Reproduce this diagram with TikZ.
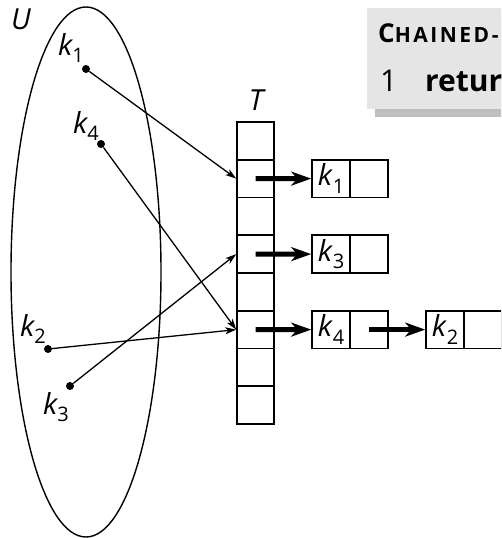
\documentclass[tikz,border=0pt]{standalone}
\usepackage{fontspec}
\setmainfont{Open Sans}
\usetikzlibrary{arrows.meta}
\newcommand\kk[1]{\textit{k}\raisebox{-0.25em}{\fontsize{20}{20}\selectfont\upshape #1}}
\begin{document}
\begin{tikzpicture}[x=1pt,y=-1pt,
  lbl/.style={font=\fontsize{29}{33}\selectfont\itshape, inner sep=0pt},
  dot/.style={circle, fill=black, inner sep=0pt, minimum size=8pt},
  cell/.style={draw, line width=1.6pt, minimum width=37pt, minimum height=37.7pt, inner sep=0pt, anchor=center},
  half/.style={draw, line width=1.6pt, minimum width=38pt, minimum height=37.7pt, inner sep=0pt, font=\fontsize{29}{33}\selectfont},
  thin/.style={line width=1.3pt, -{Stealth[length=11pt,width=7pt,inset=3pt]}},
  thick/.style={line width=5pt, -{Stealth[length=20pt,width=14pt,inset=6pt]}, shorten <=0pt}
]
\useasboundingbox (0,0) rectangle (501,538);
\clip (0,0) rectangle (501,538);
% code box
\fill[black!25] (375,16) rectangle (530,117);
\fill[black!10] (367,8) rectangle (530,109);
\node[anchor=base west, inner sep=0pt] (title) at (378,42) {\bfseries\fontsize{26}{30}\selectfont C\fontsize{21}{24}\selectfont\addfontfeature{LetterSpace=12}HAINED-};
\node[anchor=base west, inner sep=0pt] (ln) at (380,91) {\fontsize{30}{34}\selectfont 1};
\node[anchor=base west, inner sep=0pt] (ret) at (425,91) {\fontsize{30}{34}\selectfont\bfseries return};
% universe
\draw[line width=1.4pt] (86,272) ellipse [x radius=75, y radius=265];
\node[lbl] (U) at (21,19) {U};
\node[dot] (d1) at (86,69) {};
\node[dot] (d4) at (101,144) {};
\node[dot] (d2) at (48,349) {};
\node[dot] (d3) at (70,386) {};
\node[lbl] (l1) at (71,48) {\kk{1}};
\node[lbl] (l4) at (86,126) {\kk{4}};
\node[lbl] (l2) at (33,329) {\kk{2}};
\node[lbl] (l3) at (56,407) {\kk{3}};
% table
\node[lbl] (T) at (256,100) {T};
\foreach \i in {0,...,7} {
  \node[cell] (c\i) at (255.5,{122+37.75*(\i+0.5)}) {};
}
% lists
\node[half] (a1) at (331,178.6) {\kk{1}};
\node[half] (p1) at (369,178.6) {};
\node[half] (a3) at (331,254.1) {\kk{3}};
\node[half] (p3) at (369,254.1) {};
\node[half] (a4) at (331,329.6) {\kk{4}};
\node[half] (p4) at (369,329.6) {};
\node[half] (a2) at (445,329.6) {\kk{2}};
\node[half] (p2) at (483,329.6) {};
% thick arrows
\draw[thick] (c1.center) -- (a1.west);
\draw[thick] (c3.center) -- (a3.west);
\draw[thick] (c5.center) -- (a4.west);
\draw[thick] (p4.center) -- (a2.west);
% thin arrows
\draw[thin] (d1) -- (c1.west);
\draw[thin] (d4) -- (c5.west);
\draw[thin] (d2) -- (c5.west);
\draw[thin] (d3) -- (c3.west);
\end{tikzpicture}
\end{document}
